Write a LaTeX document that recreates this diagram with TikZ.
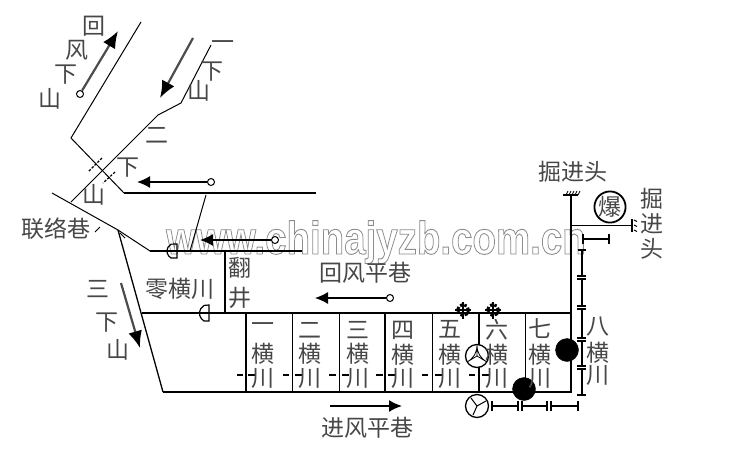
\documentclass[tikz,border=0pt]{standalone}
\usepackage{fontspec}
\setmainfont{Noto Sans CJK SC}
\newfontfamily\wmfont{Liberation Sans}
\usetikzlibrary{arrows.meta}
\tikzset{x=1pt,y=-1pt,
 lab/.style={inner sep=0pt,font=\fontsize{23}{23}\selectfont,text=black!72},
 road/.style={draw=black,line width=1pt},
 main/.style={draw=black,line width=2pt},
 wind/.style={draw=black!70,line width=2.2pt,-{Latex[length=17pt,width=14pt,black]}},
 flow/.style={draw=black,line width=1.6pt,-{Latex[length=13pt,width=12pt]}},
 src/.style={circle,draw=black,fill=white,line width=1pt,inner sep=0pt,minimum size=7pt},
 fanblack/.style={circle,fill=black,draw=black,inner sep=0pt,minimum size=23pt},
 fanwhite/.style={circle,fill=white,draw=black,line width=1.3pt,inner sep=0pt,minimum size=23pt},
 valve/.style={circle,draw=black,dash pattern=on 2.5pt off 2pt,line width=3pt,inner sep=0pt,minimum size=11pt},
 duct/.style={draw=black,line width=1.8pt},
 tick/.style={draw=black,line width=1.5pt},
}
\begin{document}
\begin{tikzpicture}
\useasboundingbox (0,0) rectangle (747,472);
\fill[white] (0,0) rectangle (747,472);
% watermark
\node[anchor=base west,inner sep=0pt,xscale=0.836] (wm) at (166,254) {\special{pdf:code q 1 Tr 0.9 w 0.55 G}\wmfont\bfseries\fontsize{46}{46}\selectfont www.chinajyzb.com.cn\special{pdf:code Q}};
% roads
\coordinate (a1) at (141,22); \coordinate (a2) at (71,138); \coordinate (a3) at (124,193); \coordinate (a4) at (316,193);
\draw[road] (a1)--(a2)--(a3); \draw[main] (a3)--(a4);
\coordinate (b1) at (211,45); \coordinate (b2) at (181,103); \coordinate (b3) at (158,115); \coordinate (b4) at (71,202);
\draw[road] (b1)--(b2)--(b3)--(b4);
\coordinate (c0) at (52,193); \coordinate (c1) at (118,230); \coordinate (c2) at (150,251); \coordinate (c3) at (302,251);
\draw[road] (c0)--(c1)--(c2); \draw[main,line width=1.6pt] (c2)--(c3);
\coordinate (d1) at (206,195); \coordinate (d2) at (190,251);
\draw[road] (d1)--(d2);
\coordinate (e2) at (163,392); \coordinate (e3) at (572,392);
\draw[road,line width=1.3pt] (c1)--(e2); \draw[main,line width=1.6pt] (e2)--(e3);
\coordinate (f1) at (142,313); \coordinate (f2) at (572,313);
\draw[main,line width=1.6pt] (f1)--(f2);
\coordinate (g1) at (225,252); \coordinate (g2) at (225,313);
\draw[main,line width=1.3pt] (g1)--(g2);
\coordinate (h1) at (571,195); \coordinate (h2) at (571,393);
\draw[main] (h1)--(h2);
% crosscuts
\foreach \x/\w in {246/1.3,292/1,339/1,385/1.3,432/1,479/1.6,525/1}{\draw[draw=black,line width=\w pt] (\x,313)--(\x,392);}
\foreach \a/\b in {237/243,248/255,283/289,295/302,329/336,342/349,376/383,388/395,422/428,435/442,469/475,482/489}{\draw[tick,line width=1.2pt] (\a,375)--(\b,375);}
% crossing bridge and doors
\draw[black,line width=1.2pt,dash pattern=on 2.5pt off 1.5pt] (102,158)--(88,172);
\draw[black,line width=1.2pt,dash pattern=on 2.5pt off 1.5pt] (115,172)--(103,183);
\draw[black,line width=1pt] (95,232)--(100,227);
\draw[black,line width=1pt] (120,233)--(125,238);
\draw[black,line width=1.2pt] (177,244)--(177,258)--(171,258) arc[start angle=240,end angle=120,radius=8pt]--cycle;
\draw[black,line width=1.2pt] (209,305)--(209,321)--(204,321) arc[start angle=240,end angle=120,radius=9pt]--cycle;
% wind arrows
\node[src] (s1) at (80,94) {}; \coordinate (t1) at (118,31); \draw[wind] (s1)--(t1);
\coordinate (s2) at (193,38); \coordinate (t2) at (160,98); \draw[wind] (s2)--(t2);
\node[src] (s3) at (211,182) {}; \coordinate (t3) at (137,182); \draw[flow] (s3)--(t3);
\node[src] (s4) at (275,240) {}; \coordinate (t4) at (200,240); \draw[flow] (s4)--(t4);
\node[src] (s5) at (390,298) {}; \coordinate (t5) at (315,298); \draw[flow,line width=1.2pt] (s5)--(t5);
\coordinate (s6) at (330,406); \coordinate (t6) at (402,406); \draw[flow] (s6)--(t6);
\coordinate (s7) at (121,283); \coordinate (t7) at (140,348); \draw[wind] (s7)--(t7);
% heading
\coordinate (k1) at (563,195); \coordinate (k2) at (578,195); \draw[black,line width=1.5pt] (k1)--(k2);
\foreach \x in {566,569,572,575,578}{\draw[black,line width=.8pt] (\x,195)--(\x+2,191);}
\coordinate (m1) at (571,225); \coordinate (m2) at (631,225); \draw[black,line width=1pt] (m1)--(m2);
\draw[black,line width=1.5pt] (632,219)--(632,232);
\foreach \y in {220,225,230}{\draw[black,line width=1pt] (634,\y)--(637,\y+1.5);}
\node[circle,draw=black,line width=1.8pt,fill=white,minimum size=31pt,inner sep=0pt,lab] (bao) at (610,207) {爆};
% duct
\coordinate (n0) at (582,239); \coordinate (n1) at (609,239);
\draw[duct] (n0)--(n1); \draw[tick] (583,234)--(583,244); \draw[tick] (609,234)--(609,244);
\draw[duct] (582,250)--(582,276); \draw[duct] (582,279)--(582,306); \draw[duct] (582,309)--(582,338); \draw[duct] (582,341)--(582,366); \draw[duct] (582,369)--(582,395);
\foreach \y in {276,279,306,309,338,341,366,369,395}{\draw[tick] (577,\y)--(586,\y);}
\draw[tick] (578,250)--(586,250);
% bottom duct
\node[fanwhite] (fb) at (477,406) {};
\draw[black,line width=1pt] (477,406)--(486,401) (477,406)--(471,398) (477,406)--(473,415);
\coordinate (p1) at (492,406); \coordinate (p2) at (518,406); \coordinate (p3) at (522,406); \coordinate (p4) at (547,406); \coordinate (p5) at (551,406); \coordinate (p6) at (578,406);
\draw[duct] (p1)--(p2); \draw[duct] (p3)--(p4); \draw[duct] (p5)--(p6);
\foreach \x in {492,518,522,547,551,578}{\draw[tick] (\x,401)--(\x,411);}
% fans
\node[fanblack] (f1b) at (567,350) {};
\node[fanblack] (f2b) at (524,389) {};
\node[fanwhite] (fw) at (477,356) {};
\draw[black,line width=.8pt] (477,356)--(477,345) (477,356)--(467,362) (477,356)--(487,362) (477,345) to[bend left=30] (467,362) (477,345) to[bend right=30] (487,362);
\node[valve] (v1) at (463,310) {};
\node[valve] (v2) at (493,310) {};
\foreach \c in {463,493}{\draw[black,line width=1.2pt] (\c,302)--(\c,319) (\c-8,310)--(\c+8,310);}
% labels
\foreach \t/\x/\y in {回/94/26,风/77/50,下/66/75,山/50/99,一/223/46,下/212/72,山/199/91,二/157/135,下/128/168,山/94/195,
 三/98/289,下/107/323,山/118/350,翻/240/268,井/240/298,
 一/263/328,横/263/354,川/263/378,二/310/330,横/310/354,川/310/378,三/358/330,横/358/354,川/358/378,四/403/330,横/403/355,川/403/378,
 五/450/329,横/450/355,川/450/378,六/497/330,横/497/355,川/497/378,七/540/329,横/540/355,川/540/378,八/598/327,横/598/353,川/598/375,
 掘/652/199,进/652/224,头/652/249}{\node[lab] (l\x-\y) at (\x,\y) {\t};}
\node[lab] (lluo) at (56,229) {联络巷};
\node[lab] (lling) at (180,289) {零横川};
\node[lab] (lhui) at (365,273) {回风平巷};
\node[lab] (ljin) at (367,428) {进风平巷};
\node[lab] (ljue) at (573,172) {掘进头};
\end{tikzpicture}
\end{document}
